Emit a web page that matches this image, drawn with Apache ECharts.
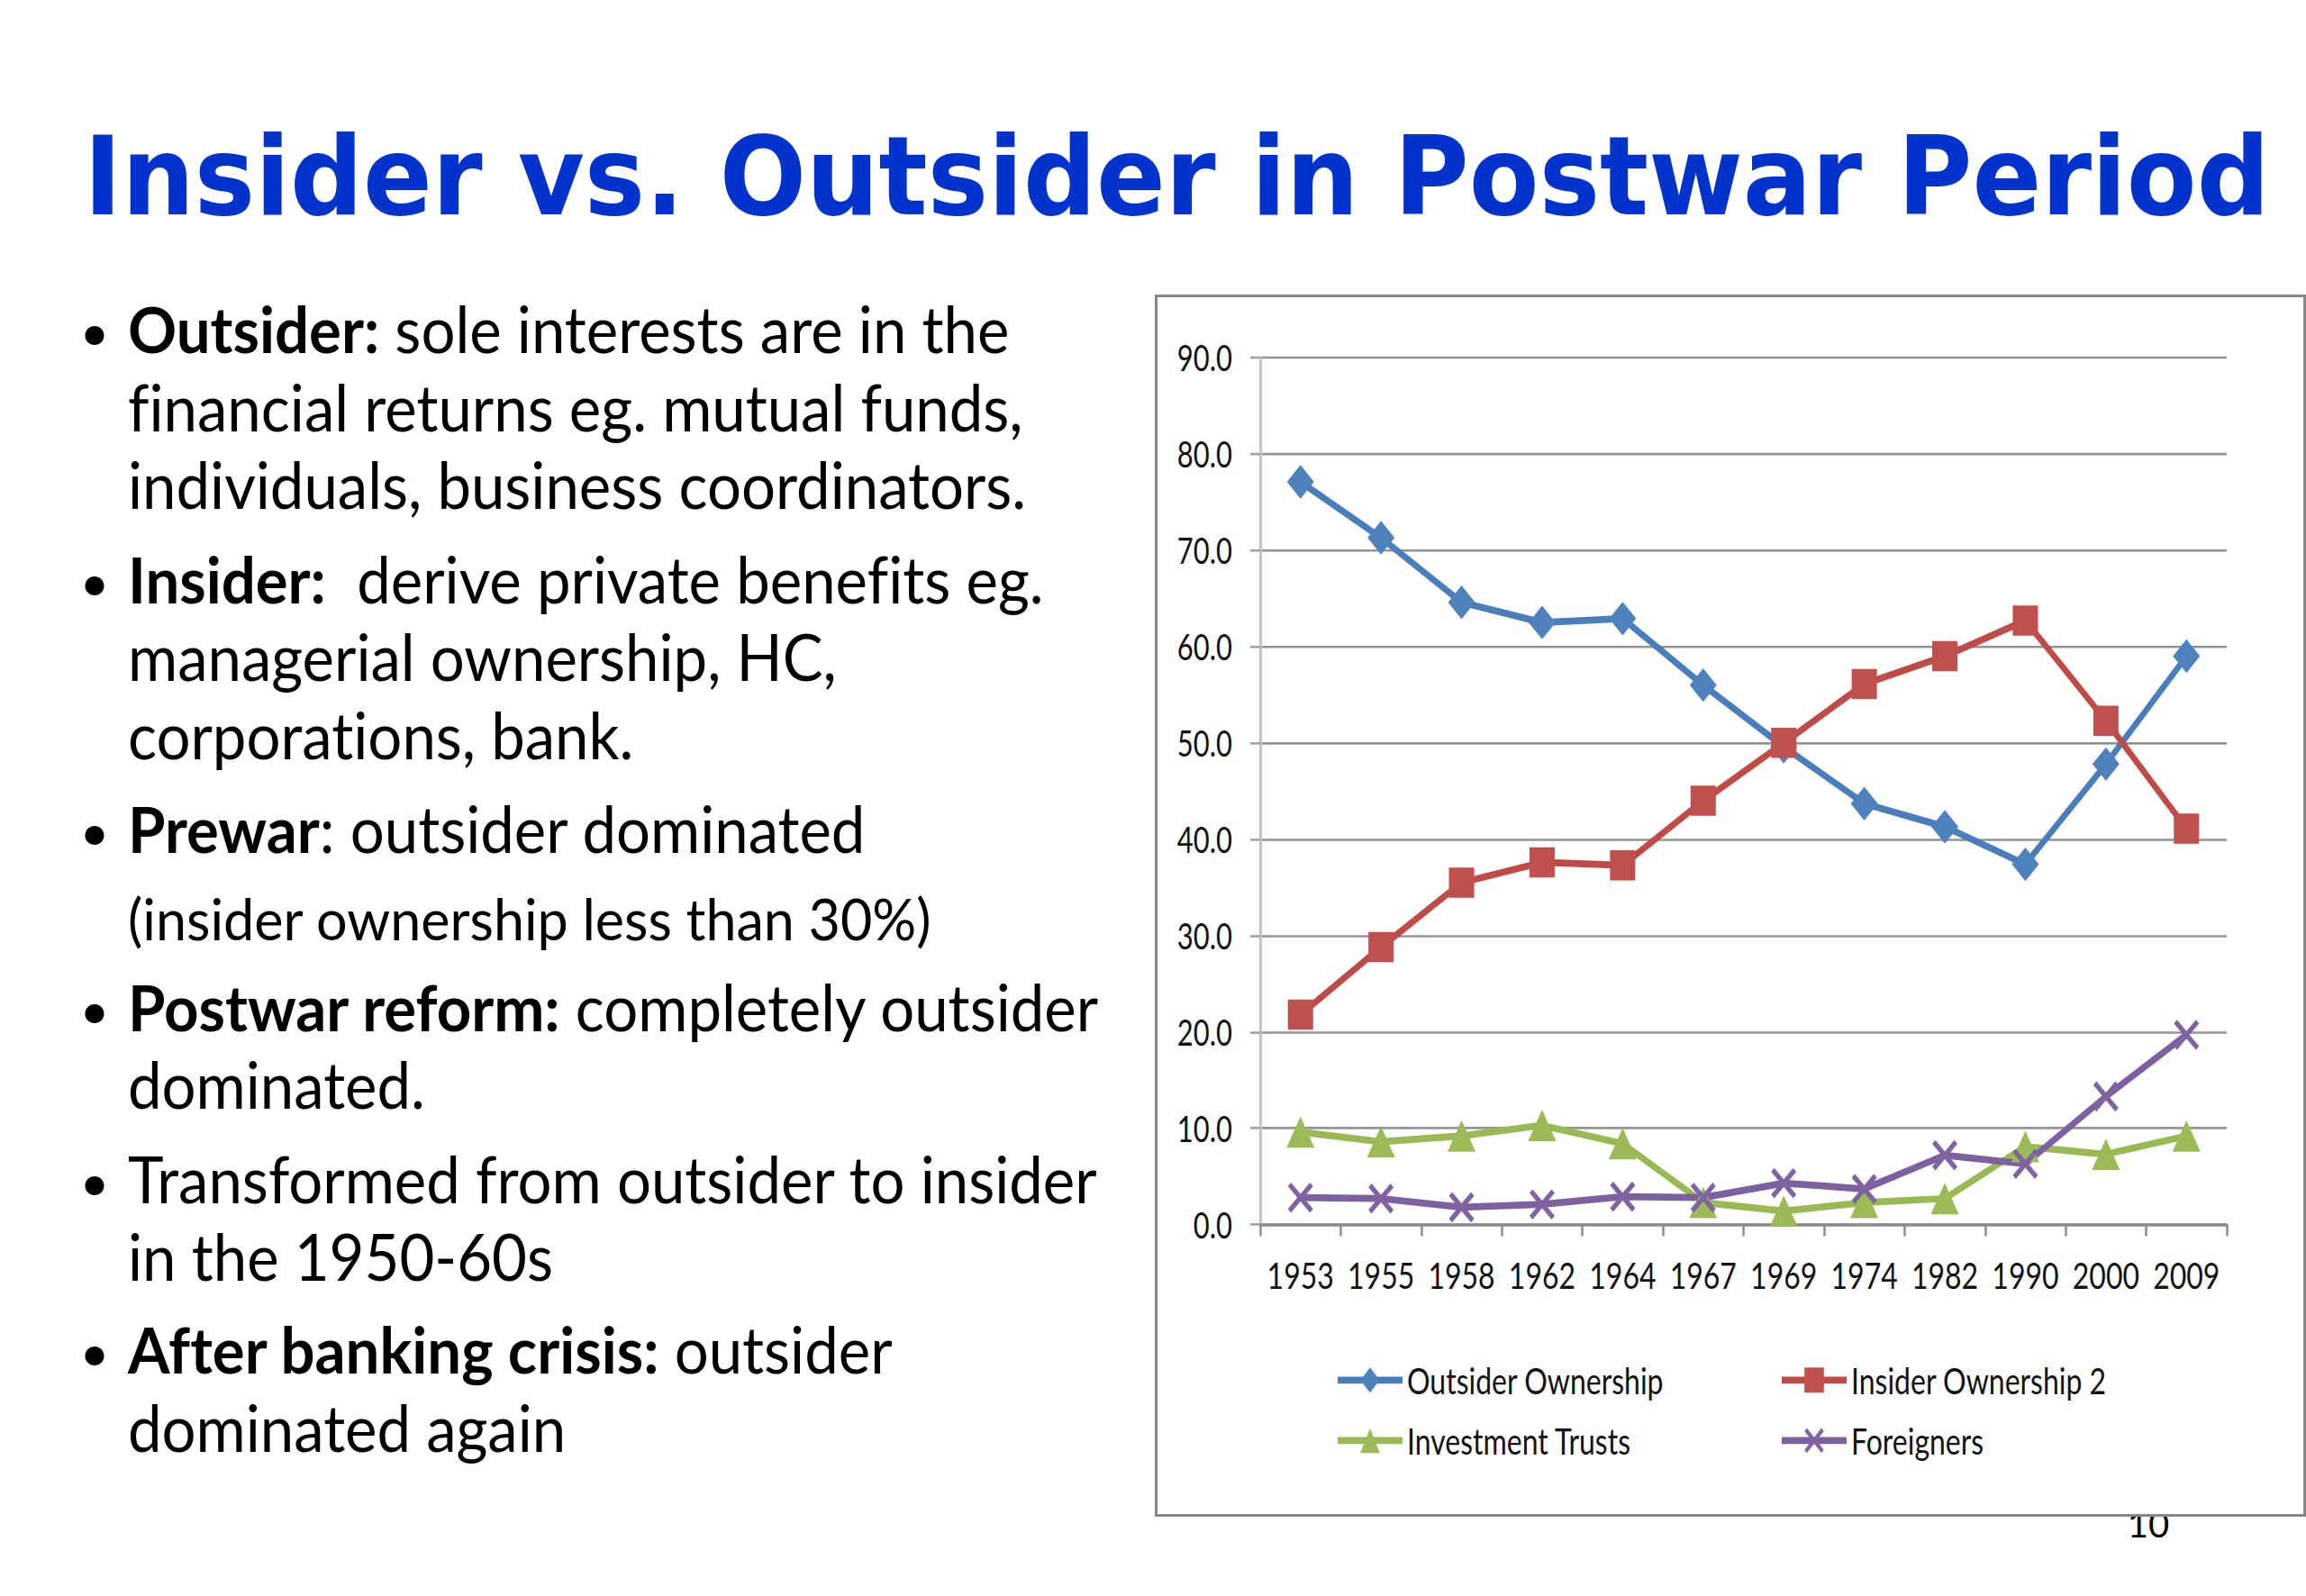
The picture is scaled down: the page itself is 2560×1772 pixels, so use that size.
<!DOCTYPE html>
<html><head><meta charset="utf-8">
<script src="https://cdn.jsdelivr.net/npm/echarts@6/dist/echarts.min.js"></script>
<style>
html,body{margin:0;padding:0;background:#fff;width:2560px;height:1772px;overflow:hidden;}
#txt{position:absolute;left:0;top:0;width:2560px;height:1772px;font-variant-ligatures:none;}
#txt text{font-variant-ligatures:none;}
#box{position:absolute;left:1282px;top:327px;width:1278px;height:1357px;border:3px solid #878787;box-sizing:border-box;background:#fff;overflow:hidden;}
#chart{position:absolute;left:0;top:0;width:1272px;transform-origin:0 0;}
</style></head>
<body>
<svg id="txt" xmlns="http://www.w3.org/2000/svg" width="2560" height="1772"></svg>
<div id="box"><div id="chart"></div></div>
<script>
// ---- data ----
const titleText = 'Insider vs. Outsider in Postwar Period';
const years = ['1953','1955','1958','1962','1964','1967','1969','1974','1982','1990','2000','2009'];
const outsider   = [77.1,71.3,64.6,62.5,62.9,56.0,49.6,43.7,41.3,37.4,47.8,59.0];
const insider    = [21.8,28.8,35.5,37.6,37.3,44.0,50.0,56.1,59.0,62.7,52.3,41.1];
const trusts     = [9.6,8.6,9.2,10.3,8.4,2.3,1.4,2.3,2.7,8.1,7.3,9.2];
const foreigners = [2.8,2.7,1.8,2.1,2.9,2.8,4.3,3.7,7.2,6.3,13.3,19.7];
const seriesNames = ['Outsider Ownership','Insider Ownership 2','Investment Trusts','Foreigners'];
const yMin = 0, yMax = 90, yStep = 10;
const pageNumber = '10';
// bullet lines: [isBulletStart, [[bold, text], ...]]
const bulletLines = [
  [true,  [[true,'Outsider:'],[false,' sole interests are in the']]],
  [false, [[false,'financial returns eg. mutual funds,']]],
  [false, [[false,'individuals, business coordinators.']]],
  [true,  [[true,'Insider:'],[false,'  derive private benefits eg.']]],
  [false, [[false,'managerial ownership, HC,']]],
  [false, [[false,'corporations, bank.']]],
  [true,  [[true,'Prewar'],[false,': outsider dominated']]],
  [false, [[false,'(insider ownership less than 30%)']]],
  [true,  [[true,'Postwar reform:'],[false,' completely outsider']]],
  [false, [[false,'dominated.']]],
  [true,  [[false,'Transformed from outsider to insider']]],
  [false, [[false,'in the 1950-60s']]],
  [true,  [[true,'After banking crisis:'],[false,' outsider']]],
  [false, [[false,'dominated again']]]
];

// ---- slide text (SVG) ----
const NS = 'http://www.w3.org/2000/svg';
const svg = document.getElementById('txt');
function el(tag, attrs, parent){const e=document.createElementNS(NS,tag);for(const k in attrs)e.setAttribute(k,attrs[k]);(parent||svg).appendChild(e);return e;}

const pn = el('text',{x:2385,y:1707,'font-family':'Lato','font-size':40,'text-anchor':'middle',fill:'#000'});
pn.textContent = pageNumber;

const tg = el('g',{});
const t = el('text',{x:0,y:0,'font-family':'DejaVu Sans','font-weight':'bold','font-size':121,fill:'#0033cc'},tg);
t.textContent = titleText;
const tw = t.getComputedTextLength();
tg.setAttribute('transform','translate(93,238) scale('+(2427/tw)+',1)');

const baselines = [392,479,565,670,756,843,947,1044,1145,1231,1336,1422,1525,1612];
const g = el('g',{});
const fs = 71;
const textNodes = [];
bulletLines.forEach((ln,i)=>{
  if(ln[0]){
    const b = el('text',{x:105,y:baselines[i]-3,'font-family':'Lato','font-size':fs*0.8,'text-anchor':'middle',fill:'#000'});
    b.textContent='\u2022';
  }
  const tx = el('text',{x:0,y:baselines[i],'font-family':'Lato','font-size':(i===7?fs*0.91:fs),fill:'#000',style:'white-space:pre'},g);
  ln[1].forEach(seg=>{
    const sp = el('tspan',{'font-weight':seg[0]?'bold':'normal'},tx);
    sp.textContent = seg[1];
  });
  textNodes.push(tx);
});
const w = textNodes[10].getComputedTextLength();
g.setAttribute('transform','translate(142,0) scale('+(1076 / w)+',1)');

// ---- chart (drawn compressed, then stretched vertically like the reference) ----
const S = 1.29;
const chartDiv = document.getElementById('chart');
chartDiv.style.height = (1351 / S) + 'px';
chartDiv.style.transform = 'scaleY(' + S + ')';
const chart = echarts.init(chartDiv, null, {renderer:'svg'});
const font = 'Lato';
const xPath = 'path://M0,2L2,0L16,14L14,16Z M14,0L16,2L2,16L0,14Z';
function mk(name, data, lineColor, markColor, symbol, size){
  return {name, type:'line', data, symbol, symbolSize:size, showSymbol:true,
    lineStyle:{color:lineColor,width:6}, itemStyle:{color:markColor, borderWidth:0},
    emphasis:{disabled:true}, animation:false};
}
const legendText = {fontFamily:font,fontSize:32,color:'#111'};
const legendCommon = {orient:'vertical',top:911,itemWidth:72,itemHeight:27,itemGap:20,textStyle:legendText,
  lineStyle:{width:6}};
chart.setOption({
  animation:false,
  backgroundColor:'#fff',
  grid:{left:114,right:85,top:67/S,bottom:321/S,containLabel:false},
  xAxis:{type:'category',data:years,boundaryGap:true,
    axisLine:{lineStyle:{color:'#8c8c8c',width:2.5}},
    axisTick:{show:true,length:10,lineStyle:{color:'#8c8c8c',width:2.5}},
    axisLabel:{color:'#111',fontFamily:font,fontSize:32,margin:27,interval:0},
    splitLine:{show:false}},
  yAxis:{type:'value',min:yMin,max:yMax,interval:yStep,
    axisLine:{show:true,lineStyle:{color:'#c4c4c4',width:3}},
    axisTick:{show:true,length:11,inside:false,lineStyle:{color:'#a0a0a0',width:2}},
    axisLabel:{color:'#111',fontFamily:font,fontSize:31,margin:31,formatter:v=>v.toFixed(1)},
    splitLine:{show:true,lineStyle:{color:'#949494',width:2}}},
  legend:[
    Object.assign({data:[seriesNames[0],seriesNames[2]],left:192}, legendCommon),
    Object.assign({data:[seriesNames[1],seriesNames[3]],left:685}, legendCommon)
  ],
  series:[
    mk(seriesNames[0],outsider,'#4a7ebb','#4f81bd','diamond',[30,29]),
    mk(seriesNames[1],insider,'#be4b48','#c0504d','rect',[28,26]),
    mk(seriesNames[2],trusts,'#98b954','#9bbb59','triangle',[31,27]),
    mk(seriesNames[3],foreigners,'#7d60a0','#8064a2',xPath,[28,26])
  ]
});
</script>
</body></html>
